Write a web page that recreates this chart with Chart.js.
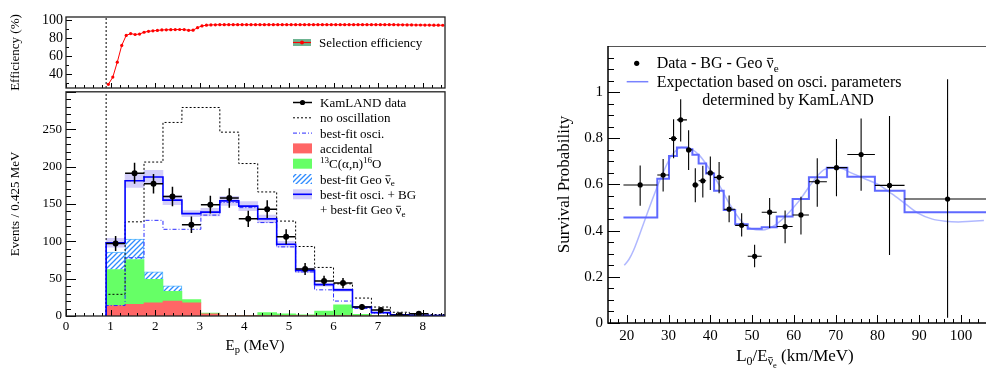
<!DOCTYPE html>
<html>
<head>
<meta charset="utf-8">
<title>KamLAND prompt spectrum and survival probability</title>
<script src="https://cdn.jsdelivr.net/npm/chart.js@4.4.1/dist/chart.umd.min.js"></script>
<style>
  html, body { margin: 0; padding: 0; background: #fff; overflow: hidden; }
  canvas { position: absolute; }
</style>
</head>
<body>
<canvas id="effChart" width="460" height="100" style="left:0;top:0"></canvas>
<canvas id="evtChart" width="460" height="288" style="left:0;top:80px"></canvas>
<canvas id="survChart" width="470" height="368" style="left:520px;top:0"></canvas>
<script>
var FONT = '"Liberation Serif", "DejaVu Serif", serif';

// selection efficiency (%), sampled every 0.1 MeV starting at 0.95 MeV
var effStart = 0.95;
var effStep = 0.1;
var effPct = [29, 37, 53.5, 72, 83, 85, 84, 84.5, 86.5, 87.5,
  88, 88.5, 89, 89.2, 89.3, 89.4, 89.5, 89.4, 88.6, 88.8,
  91.5, 93.5, 94.3, 94.6, 94.7, 94.8, 94.8, 94.8, 94.8, 94.8,
  94.8, 94.8, 94.8, 94.8, 94.8, 94.8, 94.8, 94.8, 94.8, 94.8,
  94.8, 94.8, 94.8, 94.8, 94.8, 94.8, 94.8, 94.8, 94.8, 94.8,
  94.8, 94.8, 94.8, 94.8, 94.8, 94.8, 94.8, 94.8, 94.8, 94.8,
  94.8, 94.8, 94.8, 94.8, 94.8, 94.7, 94.7, 94.6, 94.6, 94.5,
  94.5, 94.4, 94.4, 94.3, 94.3, 94.2];
var effTicks = [40, 60, 80, 100];
var threshold = 0.9;

// prompt energy spectrum, 0.425 MeV bins
var binEdges = [0.9, 1.325, 1.75, 2.175, 2.6, 3.025, 3.45, 3.875, 4.3, 4.725,
  5.15, 5.575, 6.0, 6.425, 6.85, 7.275, 7.7, 8.125, 8.55];
var dataCounts = [97, 191, 177, 160, 122, 149, 158, 130, 143, 106, 63, 47, 44, 12, 8, 1, 3, null];
var dataErr = [10, 14, 13, 13, 11, 12, 13, 11, 12, 10, 8, 7, 7, 4, 3, 1.5, 2, null];
var noOsc = [29, 126, 206, 259, 279, 279, 246, 204, 166, 127, 93, 65, 43, 24, 12, 5, 3, 2];
var bestOsci = [14, 78, 128, 116, 116, 135, 152, 145, 125, 92.5, 59, 35, 20, 10, 4, 1.5, 1, 0.5];
var bestTotal = [98, 181, 186, 155, 137, 139, 154, 147, 130, 96, 61, 42, 35, 12, 4.5, 1.5, 1, 0.5];
var totalErr = [6, 9, 9, 6, 4, 5, 6, 6, 5, 4, 3, 2, 2, 1, 0.5, 0.3, 0.3, 0.2];
var accidental = [14, 15.5, 17.5, 20, 17.5, 3, 0.5, 0.5, 0.5, 0.5, 0.5, 0.5, 0.5, 0.3, 0.3, 0.2, 0.2, 0.2];
var alphaN = [48, 60, 31.5, 13, 4.5, 1, 0.5, 0.5, 4, 2.5, 1, 6, 14.5, 2, 0.5, 0.2, 0.2, 0.2];
var geoNu = [23.5, 27.5, 10, 7.4, 0, 0, 0, 0, 0, 0, 0, 0, 0, 0, 0, 0, 0, 0];
var evtXTicks = [0, 1, 2, 3, 4, 5, 6, 7, 8];
var evtYTicks = [0, 50, 100, 150, 200, 250];

// survival probability vs L0/E
var lEdges = [19.2, 27.3, 30.1, 32.0, 34.4, 35.7, 37.2, 39.0, 40.9, 43.2, 45.95,
  48.95, 52.3, 55.9, 59.7, 63.6, 67.9, 72.8, 79.4, 86.5, 107];
var lData = [23.2, 28.7, 31.2, 32.9, 34.8, 36.4, 38.2, 40.0, 42.1, 44.5,
  47.5, 50.6, 54.2, 57.9, 61.7, 65.6, 70.2, 76.1, 82.9, 96.8];
var pData = [0.598, 0.641, 0.799, 0.880, 0.750, 0.598, 0.616, 0.650, 0.631, 0.493,
  0.423, 0.289, 0.480, 0.418, 0.468, 0.612, 0.673, 0.730, 0.596, 0.537];
var pLow = [0.508, 0.570, 0.714, 0.786, 0.663, 0.523, 0.544, 0.576, 0.562, 0.436,
  0.375, 0.242, 0.412, 0.346, 0.383, 0.504, 0.549, 0.573, 0.295, 0.023];
var pHigh = [0.682, 0.710, 0.883, 0.969, 0.835, 0.670, 0.681, 0.721, 0.698, 0.552,
  0.475, 0.339, 0.542, 0.487, 0.547, 0.714, 0.797, 0.886, 0.897, 1.056];
var pExpect = [0.457, 0.625, 0.724, 0.760, 0.753, 0.729, 0.691, 0.648, 0.573, 0.490,
  0.428, 0.408, 0.415, 0.461, 0.537, 0.631, 0.673, 0.634, 0.573, 0.480];
var curveL = [19.4, 20.5, 21.6, 24.0, 26.3, 28.7, 30.7, 33.1, 35.5, 37.5, 39.8, 42.2,
  44.6, 47.0, 49.8, 52.5, 55.3, 58.1, 61.3, 64.4, 67.6, 70.8, 74.0, 77.1, 80.3,
  83.5, 86.7, 89.8, 93.0, 96.2, 99.4, 102.5, 105.5];
var curveP = [0.25, 0.275, 0.314, 0.43, 0.544, 0.652, 0.724, 0.760, 0.753, 0.724, 0.667, 0.595,
  0.516, 0.451, 0.408, 0.403, 0.422, 0.465, 0.530, 0.609, 0.667, 0.671, 0.648, 0.624, 0.599,
  0.559, 0.516, 0.475, 0.451, 0.441, 0.438, 0.441, 0.444];
var survXTicks = [20, 30, 40, 50, 60, 70, 80, 90, 100];
var survYTicks = [0, 0.2, 0.4, 0.6, 0.8, 1];

Chart.defaults.font.family = FONT;
Chart.defaults.color = '#000';
Chart.defaults.animation = false;

// helpers
function stepPoints(edges, vals, fromZero) {
  var pts = fromZero ? [{x: edges[0], y: 0}] : [];
  vals.forEach(function (v, i) { pts.push({x: edges[i], y: v}); });
  pts.push({x: edges[vals.length], y: vals[vals.length - 1]});
  return pts;
}
function centers(edges) {
  var c = [];
  for (var i = 0; i < edges.length - 1; i++) c.push((edges[i] + edges[i + 1]) / 2);
  return c;
}
function fixTicks(list) {
  return function (s) { s.ticks = list.map(function (v) { return {value: v}; }); };
}
function label(v) { return String(Math.round(v * 100) / 100); }

function drawRich(ctx, x, y, parts, size, align) {
  var specs = parts.map(function (p) {
    var sz = size * (p.s === 'sub' || p.s === 'sup' ? 0.7 : p.s === 'sub2' ? 0.5 : 1);
    var dy = p.s === 'sub' ? size * 0.22 : p.s === 'sup' ? -size * 0.38 : p.s === 'sub2' ? size * 0.4 : 0;
    ctx.font = sz + 'px ' + FONT;
    return {t: p.t, sz: sz, dy: dy, w: ctx.measureText(p.t).width, bar: p.bar};
  });
  var total = specs.reduce(function (s, q) { return s + q.w; }, 0);
  var cx = align === 'center' ? x - total / 2 : x;
  ctx.save();
  ctx.textAlign = 'left';
  ctx.textBaseline = 'alphabetic';
  ctx.fillStyle = '#000';
  ctx.strokeStyle = '#000';
  specs.forEach(function (q) {
    ctx.font = q.sz + 'px ' + FONT;
    ctx.fillText(q.t, cx, y + q.dy);
    if (q.bar) {
      var by = y + q.dy - q.sz * 0.6;
      ctx.lineWidth = Math.max(0.8, q.sz * 0.06);
      ctx.beginPath();
      ctx.moveTo(cx + q.w * 0.1, by);
      ctx.lineTo(cx + q.w * 0.9, by);
      ctx.stroke();
    }
    cx += q.w;
  });
  ctx.restore();
}

// ROOT-like inward ticks and frame
var rootAxes = {
  id: 'rootAxes',
  afterDraw: function (chart, args, o) {
    var ctx = chart.ctx, a = chart.chartArea, xs = chart.scales.x, ys = chart.scales.y;
    function each(scale, major, minor, fn) {
      var k0 = Math.ceil(scale.min / minor - 1e-6), k1 = Math.floor(scale.max / minor + 1e-6);
      for (var k = k0; k <= k1; k++) {
        var v = k * minor;
        fn(scale.getPixelForValue(v), Math.abs(v / major - Math.round(v / major)) < 1e-6);
      }
    }
    ctx.save();
    ctx.strokeStyle = '#000';
    ctx.lineWidth = 1;
    ctx.beginPath();
    each(xs, o.x[0], o.x[1], function (p, m) {
      var px = Math.round(p) + 0.5;
      ctx.moveTo(px, a.bottom);
      ctx.lineTo(px, a.bottom - (m ? o.xLen[0] : o.xLen[1]));
    });
    each(ys, o.y[0], o.y[1], function (p, m) {
      var py = Math.round(p) + 0.5;
      ctx.moveTo(a.left, py);
      ctx.lineTo(a.left + (m ? o.yLen[0] : o.yLen[1]), py);
    });
    ctx.stroke();
    if (o.open) {
      ctx.strokeStyle = '#555';
      ctx.beginPath();
      ctx.moveTo(a.left, a.top + 0.5);
      ctx.lineTo(a.right, a.top + 0.5);
      ctx.stroke();
      ctx.strokeStyle = '#000';
      ctx.lineWidth = 1.5;
      ctx.beginPath();
      ctx.moveTo(a.left, a.top);
      ctx.lineTo(a.left, a.bottom);
      ctx.lineTo(a.right, a.bottom);
      ctx.stroke();
    } else {
      ctx.strokeStyle = '#222';
      ctx.lineWidth = 1.3;
      ctx.strokeRect(a.left, a.top, a.right - a.left, a.bottom - a.top);
    }
    ctx.restore();
  }
};

// error bars from explicit low/high arrays
var errorBars = {
  id: 'errorBars',
  afterDatasetsDraw: function (chart) {
    var ctx = chart.ctx, a = chart.chartArea;
    chart.data.datasets.forEach(function (ds) {
      if (!ds.errBars) return;
      var e = ds.errBars, xs = chart.scales.x, ys = chart.scales.y;
      ctx.save();
      ctx.beginPath();
      ctx.rect(a.left, a.top, a.right - a.left, a.bottom - a.top);
      ctx.clip();
      ctx.strokeStyle = '#000';
      ctx.lineWidth = e.width;
      ctx.beginPath();
      ds.data.forEach(function (p, i) {
        if (p.y == null) return;
        var px = xs.getPixelForValue(p.x), py = ys.getPixelForValue(p.y);
        ctx.moveTo(xs.getPixelForValue(e.xLo[i]), py);
        ctx.lineTo(xs.getPixelForValue(e.xHi[i]), py);
        ctx.moveTo(px, ys.getPixelForValue(e.yLo[i]));
        ctx.lineTo(px, ys.getPixelForValue(e.yHi[i]));
      });
      ctx.stroke();
      ctx.restore();
    });
  }
};

var evtCtx = document.getElementById('evtChart').getContext('2d');
function makeHatch(target) {
  var c = document.createElement('canvas');
  c.width = 5; c.height = 5;
  var g = c.getContext('2d');
  g.fillStyle = '#fff';
  g.fillRect(0, 0, 5, 5);
  g.strokeStyle = '#2f8cff';
  g.lineWidth = 1.3;
  g.beginPath();
  g.moveTo(-1, 6); g.lineTo(6, -1);
  g.moveTo(-1, 1); g.lineTo(1, -1);
  g.moveTo(4, 6); g.lineTo(6, 4);
  g.stroke();
  return target.createPattern(c, 'repeat');
}
var hatch = makeHatch(evtCtx);

// ---------- efficiency panel ----------
var effMin = 25, effMax = 103.3;
new Chart(document.getElementById('effChart'), {
  type: 'line',
  data: {
    datasets: [{
      data: effPct.map(function (v, i) { return {x: effStart + i * effStep, y: v}; }),
      borderColor: '#ff0000',
      borderWidth: 1,
      pointRadius: 1.6,
      pointBackgroundColor: '#ff0000',
      pointBorderWidth: 0
    }, {
      data: [{x: threshold, y: effMin}, {x: threshold, y: effMax}],
      borderColor: '#000',
      borderWidth: 1,
      borderDash: [2, 2],
      pointRadius: 0
    }]
  },
  options: {
    responsive: false,
    devicePixelRatio: 1,
    events: [],
    layout: {padding: {left: 0, right: 15, top: 17, bottom: 0}},
    plugins: {
      legend: {display: false},
      tooltip: {enabled: false},
      rootAxes: {x: [1, 0.2], y: [20, 10], xLen: [5, 3], yLen: [6, 3]}
    },
    scales: {
      x: {
        type: 'linear', min: 0, max: 8.5,
        ticks: {display: false},
        grid: {display: false, drawTicks: false},
        border: {display: false},
        afterFit: function (s) { s.height = 12; }
      },
      y: {
        min: effMin, max: effMax,
        afterBuildTicks: fixTicks(effTicks),
        ticks: {font: {size: 14}, padding: 3, callback: label},
        grid: {display: false, drawTicks: false},
        border: {display: false},
        title: {display: true, text: 'Efficiency (%)', font: {size: 13}, padding: {top: 8, bottom: 0}},
        afterFit: function (s) { s.width = 66; }
      }
    }
  },
  plugins: [rootAxes, {
    id: 'effLegend',
    afterDraw: function (chart) {
      var ctx = chart.ctx;
      ctx.save();
      ctx.fillStyle = 'rgb(110,180,145)';
      ctx.fillRect(293, 39, 18, 7);
      ctx.strokeStyle = '#ff0000';
      ctx.lineWidth = 1.2;
      ctx.beginPath();
      ctx.moveTo(293, 42.5);
      ctx.lineTo(311, 42.5);
      ctx.stroke();
      ctx.fillStyle = '#ff0000';
      ctx.beginPath();
      ctx.arc(302, 42.5, 2, 0, Math.PI * 2);
      ctx.fill();
      ctx.restore();
      drawRich(ctx, 319, 47, [{t: 'Selection efficiency'}], 13);
    }
  }]
});

// ---------- prompt energy spectrum ----------
var binMid = centers(binEdges);
var evtMax = 300;
function barData(vals) { return vals.map(function (v, i) { return {x: binMid[i], y: v}; }); }

new Chart(evtCtx, {
  type: 'bar',
  data: {
    datasets: [{
      type: 'line',
      label: 'KamLAND data',
      data: dataCounts.map(function (v, i) { return {x: binMid[i], y: v}; }),
      showLine: false,
      pointRadius: 3,
      pointBackgroundColor: '#000',
      pointBorderWidth: 0,
      errBars: {
        width: 1.5,
        xLo: binEdges.slice(0, -1),
        xHi: binEdges.slice(1),
        yLo: dataCounts.map(function (v, i) { return v == null ? null : v - dataErr[i]; }),
        yHi: dataCounts.map(function (v, i) { return v == null ? null : v + dataErr[i]; })
      }
    }, {
      type: 'line',
      label: 'best-fit osci. + BG + best-fit Geo',
      data: stepPoints(binEdges, bestTotal, true),
      stepped: 'before',
      borderColor: '#0000ff',
      borderWidth: 1.6,
      pointRadius: 0
    }, {
      type: 'line',
      label: 'best-fit osci.',
      data: stepPoints(binEdges, bestOsci, true),
      stepped: 'before',
      borderColor: '#2b2bff',
      borderWidth: 1,
      borderDash: [4, 2, 1, 2],
      pointRadius: 0
    }, {
      type: 'line',
      label: 'no oscillation',
      data: stepPoints(binEdges, noOsc, true),
      stepped: 'before',
      borderColor: '#000',
      borderWidth: 1,
      borderDash: [2, 2],
      pointRadius: 0
    }, {
      type: 'line',
      data: [{x: threshold, y: 0}, {x: threshold, y: evtMax}],
      borderColor: '#000',
      borderWidth: 1,
      borderDash: [2, 2],
      pointRadius: 0
    }, {
      label: 'band',
      data: bestTotal.map(function (v, i) { return {x: binMid[i], y: [v - totalErr[i], v + totalErr[i]]}; }),
      backgroundColor: 'rgba(175,165,245,0.55)',
      borderWidth: 0,
      yAxisID: 'yb',
      barPercentage: 1,
      categoryPercentage: 1
    }, {
      label: 'accidental',
      data: barData(accidental),
      backgroundColor: '#ff6666',
      borderWidth: 0,
      yAxisID: 'ys',
      barPercentage: 1,
      categoryPercentage: 1
    }, {
      label: '13C(a,n)16O',
      data: barData(alphaN),
      backgroundColor: '#66ff66',
      borderWidth: 0,
      yAxisID: 'ys',
      barPercentage: 1,
      categoryPercentage: 1
    }, {
      label: 'best-fit Geo',
      data: barData(geoNu),
      backgroundColor: hatch,
      borderColor: '#55b8ff',
      borderWidth: 1,
      yAxisID: 'ys',
      barPercentage: 1,
      categoryPercentage: 1
    }]
  },
  options: {
    responsive: false,
    devicePixelRatio: 1,
    events: [],
    layout: {padding: {left: 0, right: 15, top: 8, bottom: 0}},
    plugins: {
      legend: {display: false},
      tooltip: {enabled: false},
      rootAxes: {x: [1, 0.2], y: [50, 10], xLen: [6, 3], yLen: [10, 5]}
    },
    scales: {
      x: {
        type: 'linear', min: 0, max: 8.5, offset: false, stacked: true,
        afterBuildTicks: fixTicks(evtXTicks),
        ticks: {font: {size: 13}, padding: 3, maxRotation: 0, callback: label},
        grid: {display: false, drawTicks: false, offset: false},
        border: {display: false},
        afterFit: function (s) { s.height = 52; }
      },
      y: {
        min: 0, max: evtMax,
        afterBuildTicks: fixTicks(evtYTicks),
        ticks: {font: {size: 13}, padding: 4, callback: label},
        grid: {display: false, drawTicks: false},
        border: {display: false},
        title: {display: true, text: 'Events / 0.425 MeV', font: {size: 13}, padding: {top: 8, bottom: 0}},
        afterFit: function (s) { s.width = 66; }
      },
      ys: {display: false, stacked: true, min: 0, max: evtMax},
      yb: {display: false, min: 0, max: evtMax}
    }
  },
  plugins: [rootAxes, errorBars, {
    id: 'evtLegend',
    afterDraw: function (chart) {
      var ctx = chart.ctx;
      var x0 = 293, x1 = 312, tx = 320, size = 13;
      function rowY(i) { return 22.5 + i * 15.3; }
      ctx.save();
      // data
      var y = rowY(0);
      ctx.strokeStyle = '#000'; ctx.lineWidth = 1.5;
      ctx.beginPath(); ctx.moveTo(x0, y); ctx.lineTo(x1, y); ctx.stroke();
      ctx.fillStyle = '#000';
      ctx.beginPath(); ctx.arc((x0 + x1) / 2, y, 2.6, 0, Math.PI * 2); ctx.fill();
      // no oscillation
      y = rowY(1);
      ctx.lineWidth = 1; ctx.setLineDash([2, 2]);
      ctx.beginPath(); ctx.moveTo(x0, y); ctx.lineTo(x1, y); ctx.stroke();
      // best-fit osci
      y = rowY(2);
      ctx.strokeStyle = '#2b2bff'; ctx.setLineDash([4, 2, 1, 2]);
      ctx.beginPath(); ctx.moveTo(x0, y); ctx.lineTo(x1, y); ctx.stroke();
      ctx.setLineDash([]);
      // boxes
      ctx.fillStyle = '#ff6666'; ctx.fillRect(x0, rowY(3) - 5, x1 - x0, 10);
      ctx.fillStyle = '#66ff66'; ctx.fillRect(x0, rowY(4) - 5, x1 - x0, 10);
      ctx.fillStyle = hatch; ctx.fillRect(x0, rowY(5) - 5, x1 - x0, 10);
      ctx.fillStyle = 'rgba(175,165,245,0.55)'; ctx.fillRect(x0, rowY(6) - 5, x1 - x0, 10);
      ctx.strokeStyle = '#0000ff'; ctx.lineWidth = 1.6;
      ctx.beginPath(); ctx.moveTo(x0, rowY(6)); ctx.lineTo(x1, rowY(6)); ctx.stroke();
      ctx.restore();
      var b = 4.5;
      drawRich(ctx, tx, rowY(0) + b, [{t: 'KamLAND data'}], size);
      drawRich(ctx, tx, rowY(1) + b, [{t: 'no oscillation'}], size);
      drawRich(ctx, tx, rowY(2) + b, [{t: 'best-fit osci.'}], size);
      drawRich(ctx, tx, rowY(3) + b, [{t: 'accidental'}], size);
      drawRich(ctx, tx, rowY(4) + b, [{t: '13', s: 'sup'}, {t: 'C(α,n)'}, {t: '16', s: 'sup'}, {t: 'O'}], size);
      drawRich(ctx, tx, rowY(5) + b, [{t: 'best-fit Geo '}, {t: 'ν', bar: true}, {t: 'e', s: 'sub'}], size);
      drawRich(ctx, tx, rowY(6) + b, [{t: 'best-fit osci. + BG'}], size);
      drawRich(ctx, tx, rowY(7) + b, [{t: '+ best-fit Geo '}, {t: 'ν', bar: true}, {t: 'e', s: 'sub'}], size);
      // axis title
      drawRich(ctx, 255, 270, [{t: 'E'}, {t: 'p', s: 'sub'}, {t: ' (MeV)'}], 15, 'center');
    }
  }]
});

// ---------- survival probability ----------
new Chart(document.getElementById('survChart'), {
  type: 'line',
  data: {
    datasets: [{
      label: 'Data - BG - Geo',
      data: lData.map(function (x, i) { return {x: x, y: pData[i]}; }),
      showLine: false,
      pointRadius: 2.6,
      pointBackgroundColor: '#000',
      pointBorderWidth: 0,
      errBars: {width: 1.1, xLo: lEdges.slice(0, -1), xHi: lEdges.slice(1), yLo: pLow, yHi: pHigh}
    }, {
      label: 'Expectation (binned)',
      data: stepPoints(lEdges, pExpect, false),
      stepped: 'before',
      borderColor: 'rgb(95,105,255)',
      borderWidth: 2,
      pointRadius: 0
    }, {
      label: 'Expectation',
      data: curveL.map(function (x, i) { return {x: x, y: curveP[i]}; }),
      borderColor: 'rgba(150,160,255,0.75)',
      borderWidth: 1.5,
      pointRadius: 0,
      cubicInterpolationMode: 'monotone'
    }]
  },
  options: {
    responsive: false,
    devicePixelRatio: 1,
    events: [],
    layout: {padding: {left: 0, right: 2, top: 46, bottom: 0}},
    plugins: {
      legend: {display: false},
      tooltip: {enabled: false},
      rootAxes: {x: [10, 2], y: [0.2, 0.05], xLen: [8, 4], yLen: [12, 6], open: true}
    },
    scales: {
      x: {
        type: 'linear', min: 15.5, max: 106,
        afterBuildTicks: fixTicks(survXTicks),
        ticks: {font: {size: 15}, padding: 4, maxRotation: 0, callback: label},
        grid: {display: false, drawTicks: false},
        border: {display: false},
        afterFit: function (s) { s.height = 45; }
      },
      y: {
        min: 0, max: 1.2,
        afterBuildTicks: fixTicks(survYTicks),
        ticks: {font: {size: 15}, padding: 5, callback: label},
        grid: {display: false, drawTicks: false},
        border: {display: false},
        title: {display: true, text: 'Survival Probability', font: {size: 17}, padding: {top: 34, bottom: 0}},
        afterFit: function (s) { s.width = 88; }
      }
    }
  },
  plugins: [rootAxes, errorBars, {
    id: 'survLegend',
    afterDraw: function (chart) {
      var ctx = chart.ctx, size = 16;
      ctx.save();
      ctx.fillStyle = '#000';
      ctx.beginPath(); ctx.arc(116.7, 63.3, 2.6, 0, Math.PI * 2); ctx.fill();
      ctx.strokeStyle = 'rgb(120,130,255)'; ctx.lineWidth = 1.5;
      ctx.beginPath(); ctx.moveTo(106.7, 81.7); ctx.lineTo(128.3, 81.7); ctx.stroke();
      ctx.restore();
      drawRich(ctx, 136.7, 68, [{t: 'Data - BG - Geo '}, {t: 'ν', bar: true}, {t: 'e', s: 'sub'}], size);
      drawRich(ctx, 136.7, 87, [{t: 'Expectation based on osci. parameters'}], size);
      drawRich(ctx, 182.3, 105, [{t: 'determined by KamLAND'}], size);
      drawRich(ctx, 275, 361, [{t: 'L'}, {t: '0', s: 'sub'}, {t: '/E'}, {t: 'ν', s: 'sub', bar: true}, {t: 'e', s: 'sub2'}, {t: ' (km/MeV)'}], 17, 'center');
    }
  }]
});
</script>
</body>
</html>
